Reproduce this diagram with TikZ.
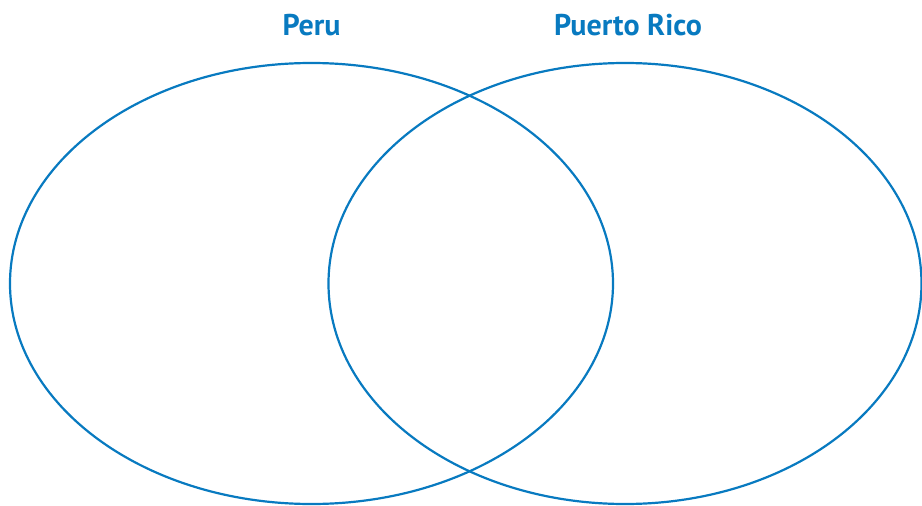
\documentclass[tikz,border=0pt]{standalone}
\usepackage{fontspec}
\setmainfont{PT Sans}
\definecolor{vennblue}{RGB}{8,122,192}
\begin{document}
\begin{tikzpicture}[x=1pt,y=-1pt,
  venn/.style={draw=vennblue,line width=2.2pt},
  title/.style={text=vennblue,font=\fontsize{30}{30}\selectfont\bfseries,inner sep=0pt,anchor=base}]
\useasboundingbox (0,0) rectangle (922,506);
\draw[venn] (311.5,283.5) ellipse [x radius=301.5, y radius=220.5];
\draw[venn] (625,283.5) ellipse [x radius=296.5, y radius=220.5];
\node[title] (peru) at (311.5,35) {Peru};
\node[title] (pr) at (628,35) {Puerto Rico};
\end{tikzpicture}
\end{document}
